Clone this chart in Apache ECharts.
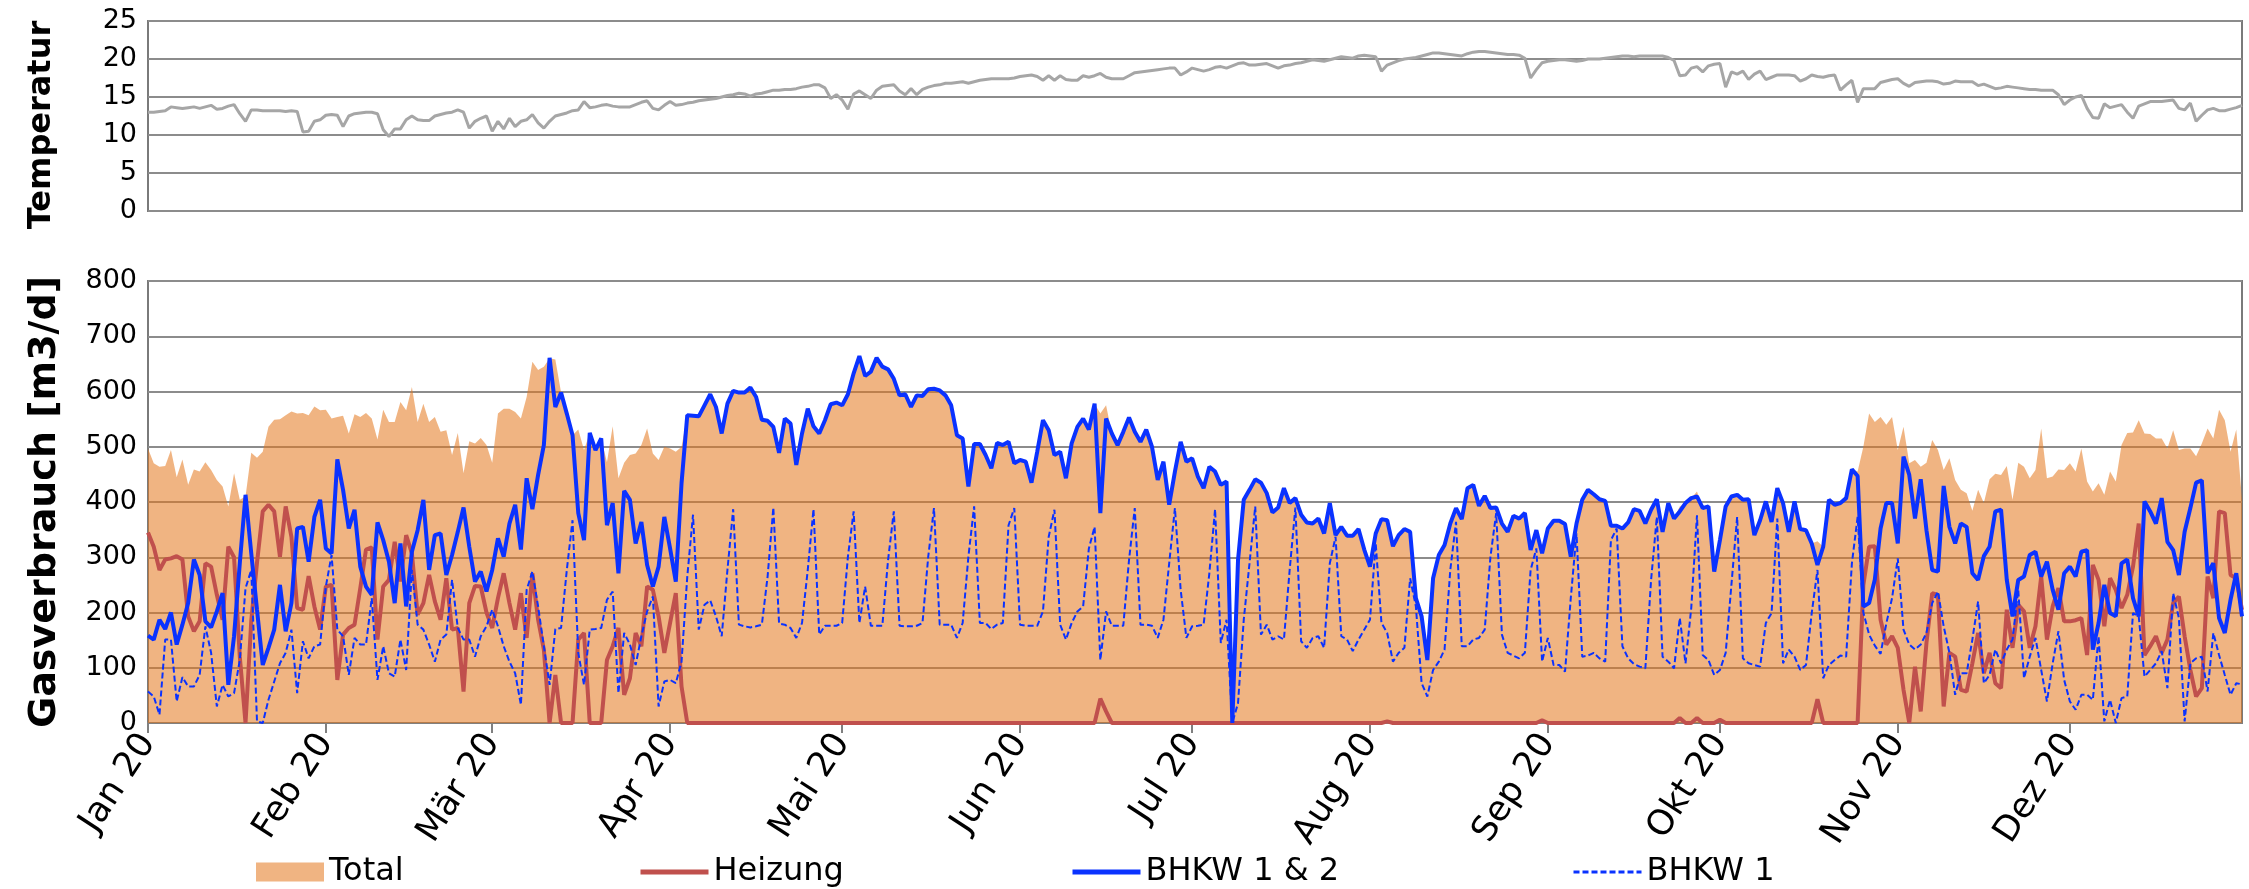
<!DOCTYPE html>
<html>
<head>
<meta charset="utf-8">
<script src="https://cdn.jsdelivr.net/npm/echarts@6/dist/echarts.min.js"></script>
<style>
  html, body { margin: 0; padding: 0; background: #fff; }
  #chart { width: 2249px; height: 889px; }
</style>
</head>
<body>
<div id="chart"></div>
<script>
// Monate 2020 (Schaltjahr)
const monthLabels = ['Jan 20', 'Feb 20', 'Mär 20', 'Apr 20', 'Mai 20', 'Jun 20', 'Jul 20', 'Aug 20', 'Sep 20', 'Okt 20', 'Nov 20', 'Dez 20']
const monthDays = [31, 29, 31, 30, 31, 30, 31, 31, 30, 31, 30, 31]

// Tagesmitteltemperatur
const temperatur = [
  13.0, 13.0, 13.1, 13.2, 13.7, 13.6, 13.5, 13.6, 13.7, 13.5,
  13.7, 13.9, 13.4, 13.5, 13.8, 14.0, 12.8, 11.8, 13.3, 13.3,
  13.2, 13.2, 13.2, 13.2, 13.1, 13.2, 13.1, 10.4, 10.5, 11.8,
  12.0, 12.6, 12.7, 12.6, 11.1, 12.5, 12.8, 12.9, 13.0, 13.0,
  12.8, 10.7, 9.8, 10.8, 10.8, 12.0, 12.5, 12.0, 11.9, 11.9,
  12.5, 12.7, 12.9, 13.0, 13.3, 13.0, 10.9, 11.8, 12.2, 12.5,
  10.5, 11.8, 10.8, 12.2, 11.1, 11.8, 12.0, 12.7, 11.6, 10.9,
  11.8, 12.5, 12.7, 12.9, 13.2, 13.3, 14.4, 13.6, 13.7, 13.9,
  14.0, 13.8, 13.7, 13.7, 13.7, 14.0, 14.3, 14.5, 13.5, 13.3,
  13.9, 14.4, 13.9, 14.0, 14.2, 14.3, 14.5, 14.6, 14.7, 14.8,
  15.0, 15.2, 15.3, 15.5, 15.4, 15.1, 15.4, 15.5, 15.7, 15.9,
  15.9, 16.0, 16.0, 16.1, 16.3, 16.4, 16.6, 16.6, 16.2, 14.8,
  15.3, 14.6, 13.4, 15.4, 15.8, 15.3, 14.8, 15.9, 16.4, 16.5,
  16.6, 15.8, 15.3, 16.1, 15.3, 16.0, 16.3, 16.5, 16.6, 16.8,
  16.8, 16.9, 17.0, 16.8, 17.0, 17.2, 17.3, 17.4, 17.4, 17.4,
  17.4, 17.5, 17.7, 17.8, 17.9, 17.7, 17.2, 17.8, 17.2, 17.8,
  17.3, 17.2, 17.2, 17.8, 17.6, 17.8, 18.1, 17.6, 17.4, 17.4,
  17.4, 17.8, 18.2, 18.3, 18.4, 18.5, 18.6, 18.7, 18.8, 18.8,
  17.9, 18.3, 18.8, 18.6, 18.4, 18.6, 18.9, 19.0, 18.8, 19.1,
  19.4, 19.5, 19.2, 19.2, 19.3, 19.4, 19.1, 18.8, 19.1, 19.2,
  19.4, 19.5, 19.7, 19.9, 19.8, 19.7, 19.9, 20.1, 20.3, 20.2,
  20.1, 20.4, 20.5, 20.4, 20.3, 18.4, 19.2, 19.5, 19.8, 20.0,
  20.1, 20.2, 20.4, 20.6, 20.8, 20.8, 20.7, 20.6, 20.5, 20.4,
  20.7, 20.9, 21.0, 21.0, 20.9, 20.8, 20.7, 20.6, 20.6, 20.5,
  20.1, 17.5, 18.6, 19.5, 19.7, 19.8, 19.9, 19.9, 19.8, 19.7,
  19.8, 20.0, 20.0, 20.0, 20.1, 20.2, 20.3, 20.4, 20.4, 20.3,
  20.4, 20.4, 20.4, 20.4, 20.4, 20.2, 19.8, 17.8, 17.9, 18.8,
  19.0, 18.3, 19.1, 19.3, 19.4, 16.3, 18.3, 18.0, 18.4, 17.3,
  18.0, 18.4, 17.3, 17.6, 17.9, 17.9, 17.9, 17.8, 17.1, 17.4,
  17.9, 17.7, 17.6, 17.8, 17.9, 15.9, 16.6, 17.2, 14.3, 16.1,
  16.1, 16.1, 16.9, 17.1, 17.3, 17.4, 16.8, 16.4, 16.9, 17.0,
  17.1, 17.1, 17.0, 16.7, 16.8, 17.1, 17.0, 17.0, 17.0, 16.5,
  16.7, 16.4, 16.1, 16.2, 16.4, 16.3, 16.2, 16.1, 16.0, 16.0,
  15.9, 15.9, 15.9, 15.3, 14.0, 14.6, 15.0, 15.2, 13.5, 12.3,
  12.2, 14.1, 13.6, 13.8, 14.0, 13.0, 12.2, 13.8, 14.1, 14.4,
  14.4, 14.4, 14.5, 14.6, 13.5, 13.3, 14.2, 11.8, 12.6, 13.3,
  13.5, 13.2, 13.2, 13.4, 13.6, 13.9
]

// Gasverbrauch gesamt [m3/d]
const total = [
  497, 470, 464, 465, 494, 445, 477, 431, 459, 455,
  472, 458, 440, 428, 392, 452, 404, 410, 489, 480,
  491, 536, 549, 550, 557, 564, 560, 561, 557, 573,
  566, 567, 551, 554, 556, 524, 559, 554, 561, 551,
  513, 567, 545, 545, 581, 566, 608, 545, 578, 545,
  554, 527, 530, 485, 525, 452, 510, 506, 516, 503,
  471, 560, 569, 569, 563, 551, 590, 654, 639, 645,
  660, 658, 598, 560, 521, 531, 494, 525, 494, 515,
  472, 537, 443, 471, 485, 488, 503, 533, 488, 476,
  500, 497, 491, 500, 557, 556, 555, 575, 595, 572,
  524, 578, 601, 598, 598, 607, 590, 549, 547, 536,
  489, 551, 542, 467, 524, 569, 537, 524, 548, 577,
  580, 575, 595, 633, 664, 628, 636, 661, 645, 640,
  623, 593, 595, 572, 593, 592, 604, 605, 602, 593,
  575, 521, 515, 428, 505, 505, 485, 461, 507, 503,
  509, 470, 476, 473, 435, 491, 548, 530, 485, 491,
  443, 506, 536, 551, 531, 578, 560, 575, 524, 503,
  527, 553, 527, 509, 531, 500, 440, 473, 395, 455,
  509, 473, 479, 446, 425, 464, 455, 431, 437, 0,
  295, 404, 422, 441, 435, 416, 381, 390, 425, 398,
  407, 377, 363, 361, 370, 343, 398, 340, 355, 339,
  339, 351, 314, 283, 343, 369, 367, 320, 340, 351,
  346, 226, 193, 114, 262, 304, 322, 361, 389, 369,
  425, 431, 393, 411, 389, 390, 361, 346, 375, 370,
  380, 313, 349, 307, 352, 366, 366, 360, 301, 361,
  404, 422, 414, 405, 402, 357, 357, 352, 363, 387,
  384, 361, 386, 405, 346, 398, 370, 392, 398, 407,
  419, 389, 392, 274, 337, 392, 410, 413, 404, 405,
  340, 367, 401, 364, 425, 398, 346, 401, 351, 349,
  325, 329, 319, 404, 395, 398, 407, 459, 455, 500,
  560, 545, 554, 540, 554, 494, 536, 470, 476, 464,
  471, 512, 494, 458, 479, 440, 422, 416, 384, 422,
  398, 441, 451, 449, 465, 404, 471, 464, 443, 458,
  533, 443, 446, 459, 458, 470, 455, 497, 437, 419,
  434, 413, 455, 437, 503, 525, 526, 548, 524, 523,
  515, 515, 497, 530, 494, 497, 497, 483, 506, 533,
  515, 567, 548, 491, 531, 404
]

// Heizung [m3/d]
const heizung = [
  345, 319, 277, 296, 298, 302, 296, 193, 166, 184,
  289, 283, 232, 187, 319, 300, 120, 0, 185, 290,
  383, 395, 383, 301, 392, 337, 208, 205, 266, 211,
  169, 247, 250, 78, 160, 172, 178, 244, 314, 318,
  151, 247, 259, 328, 256, 340, 307, 196, 217, 268,
  220, 187, 262, 169, 172, 57, 217, 248, 247, 200,
  172, 226, 271, 217, 169, 235, 154, 271, 187, 133,
  0, 87, 0, 0, 0, 151, 163, 0, 0, 0,
  114, 139, 172, 51, 81, 163, 139, 247, 241, 193,
  127, 181, 235, 66, 0, 0, 0, 0, 0, 0,
  0, 0, 0, 0, 0, 0, 0, 0, 0, 0,
  0, 0, 0, 0, 0, 0, 0, 0, 0, 0,
  0, 0, 0, 0, 0, 0, 0, 0, 0, 0,
  0, 0, 0, 0, 0, 0, 0, 0, 0, 0,
  0, 0, 0, 0, 0, 0, 0, 0, 0, 0,
  0, 0, 0, 0, 0, 0, 0, 0, 0, 0,
  0, 0, 0, 0, 0, 0, 44, 21, 0, 0,
  0, 0, 0, 0, 0, 0, 0, 0, 0, 0,
  0, 0, 0, 0, 0, 0, 0, 0, 0, 0,
  0, 0, 0, 0, 0, 0, 0, 0, 0, 0,
  0, 0, 0, 0, 0, 0, 0, 0, 0, 0,
  0, 0, 0, 0, 0, 0, 3, 0, 0, 0,
  0, 0, 0, 0, 0, 0, 0, 0, 0, 0,
  0, 0, 0, 0, 0, 0, 0, 0, 0, 0,
  0, 0, 0, 5, 0, 0, 0, 0, 0, 0,
  0, 0, 0, 0, 0, 0, 0, 0, 0, 0,
  0, 0, 0, 0, 0, 0, 0, 9, 0, 0,
  9, 0, 0, 0, 6, 0, 0, 0, 0, 0,
  0, 0, 0, 0, 0, 0, 0, 0, 0, 0,
  0, 43, 0, 0, 0, 0, 0, 0, 0, 250,
  319, 320, 187, 142, 157, 136, 60, 0, 102, 21,
  145, 235, 232, 30, 127, 120, 60, 57, 108, 163,
  90, 127, 72, 63, 205, 136, 214, 202, 136, 175,
  265, 151, 211, 244, 184, 184, 186, 190, 123, 286,
  259, 175, 262, 241, 208, 232, 283, 361, 123, 139,
  157, 127, 151, 217, 229, 157, 96, 48, 63, 265,
  226, 383, 380, 268, 262, 205
]

// BHKW 1 & 2 [m3/d]
const bhkw12 = [
  158, 151, 187, 170, 200, 142, 178, 217, 296, 268,
  184, 173, 202, 235, 69, 157, 289, 413, 307, 205,
  105, 136, 169, 250, 166, 217, 352, 355, 292, 373,
  404, 316, 307, 477, 422, 352, 386, 283, 247, 232,
  363, 331, 292, 217, 325, 211, 310, 349, 404, 277,
  340, 343, 268, 304, 346, 390, 319, 256, 274, 238,
  277, 334, 301, 361, 395, 314, 443, 387, 449, 503,
  661, 572, 598, 560, 521, 380, 331, 525, 494, 515,
  358, 398, 271, 420, 404, 325, 364, 286, 247, 283,
  373, 316, 256, 434, 557, 556, 555, 575, 595, 572,
  524, 578, 601, 598, 598, 607, 590, 549, 547, 536,
  489, 551, 542, 467, 524, 569, 537, 524, 548, 577,
  580, 575, 595, 633, 664, 628, 636, 661, 645, 640,
  623, 593, 595, 572, 593, 592, 604, 605, 602, 593,
  575, 521, 515, 428, 505, 505, 485, 461, 507, 503,
  509, 470, 476, 473, 435, 491, 548, 530, 485, 491,
  443, 506, 536, 551, 531, 578, 380, 551, 524, 503,
  527, 553, 527, 509, 531, 500, 440, 473, 395, 455,
  509, 473, 479, 446, 425, 464, 455, 431, 437, 0,
  295, 404, 422, 441, 435, 416, 381, 390, 425, 398,
  407, 377, 363, 361, 370, 343, 398, 340, 355, 339,
  339, 351, 314, 283, 343, 369, 367, 320, 340, 351,
  346, 226, 193, 114, 262, 304, 322, 361, 389, 369,
  425, 431, 393, 411, 389, 390, 361, 346, 375, 370,
  380, 313, 349, 307, 352, 366, 366, 360, 301, 361,
  404, 422, 414, 405, 402, 357, 357, 352, 363, 387,
  384, 361, 386, 405, 346, 398, 370, 383, 398, 407,
  410, 389, 392, 274, 331, 392, 410, 413, 404, 405,
  340, 367, 401, 364, 425, 398, 346, 401, 351, 349,
  325, 286, 319, 404, 395, 398, 407, 459, 447, 211,
  217, 260, 352, 398, 398, 325, 482, 449, 370, 441,
  349, 277, 274, 429, 355, 325, 361, 355, 271, 259,
  302, 319, 383, 386, 259, 193, 259, 265, 304, 310,
  265, 292, 241, 205, 271, 283, 265, 310, 313, 133,
  181, 250, 199, 193, 289, 296, 226, 193, 401, 383,
  361, 407, 328, 313, 268, 346, 389, 435, 439, 271,
  289, 190, 163, 223, 271, 193
]

// BHKW 1 [m3/d]
const bhkw1 = [
  57, 48, 15, 151, 151, 39, 83, 66, 66, 87,
  175, 127, 30, 69, 48, 54, 114, 244, 277, 3,
  0, 42, 75, 108, 127, 169, 54, 148, 117, 139,
  142, 247, 304, 169, 157, 87, 154, 142, 142, 226,
  78, 139, 90, 84, 151, 96, 277, 178, 169, 142,
  111, 151, 160, 259, 172, 151, 151, 120, 157, 175,
  205, 175, 139, 111, 90, 33, 241, 274, 211, 139,
  69, 170, 172, 277, 367, 127, 69, 169, 170, 172,
  223, 238, 54, 163, 142, 105, 157, 202, 229, 30,
  75, 78, 72, 111, 265, 377, 169, 214, 222, 193,
  157, 277, 387, 178, 175, 173, 175, 178, 265, 390,
  180, 178, 172, 154, 181, 277, 387, 160, 176, 176,
  176, 181, 301, 383, 181, 247, 176, 176, 176, 295,
  383, 176, 175, 175, 176, 181, 301, 389, 178, 178,
  178, 154, 181, 301, 392, 181, 181, 170, 178, 181,
  358, 389, 178, 176, 176, 176, 202, 337, 386, 178,
  151, 181, 202, 211, 316, 355, 114, 202, 176, 176,
  176, 295, 389, 178, 178, 176, 154, 187, 289, 389,
  241, 154, 175, 176, 178, 271, 387, 145, 187, 0,
  36, 187, 289, 392, 160, 178, 151, 157, 151, 277,
  390, 148, 136, 154, 157, 136, 289, 337, 157, 151,
  130, 151, 169, 187, 325, 181, 163, 111, 127, 136,
  262, 211, 72, 48, 96, 111, 133, 277, 364, 139,
  139, 151, 154, 169, 301, 380, 160, 127, 122, 117,
  127, 277, 316, 111, 154, 105, 105, 93, 226, 343,
  120, 122, 127, 117, 111, 331, 352, 139, 117, 107,
  102, 99, 259, 373, 120, 111, 99, 190, 108, 208,
  376, 123, 114, 87, 96, 127, 250, 373, 117, 108,
  105, 102, 181, 199, 370, 108, 133, 120, 96, 105,
  199, 277, 81, 105, 114, 122, 120, 289, 373, 200,
  160, 140, 125, 180, 226, 298, 169, 142, 133, 142,
  163, 217, 238, 175, 127, 51, 90, 90, 151, 220,
  72, 87, 133, 108, 133, 151, 241, 81, 120, 154,
  96, 39, 108, 166, 78, 39, 24, 51, 51, 42,
  157, 3, 42, 0, 45, 48, 199, 193, 84, 96,
  108, 130, 63, 235, 190, 3, 108, 117, 120, 57,
  163, 123, 87, 51, 72, 70
]

// Kategorien: ein Eintrag pro Tag, "monat-tag"
const days = []
monthDays.forEach((n, m) => {
  for (let d = 1; d <= n; d++) days.push(m + '-' + d)
})
const isMonthStart = (index, value) => value.split('-')[1] === '1'

const font = "'DejaVu Sans', Verdana, sans-serif"
const gridColor = '#8c8c8c'

const chart = echarts.init(document.getElementById('chart'))
const legendText = { fontSize: 32, color: '#000', fontFamily: font }
// Linien-Legenden ohne Punktsymbol
const lineLegend = { top: 851, itemWidth: 68, itemHeight: 19, textStyle: legendText, itemStyle: { opacity: 0 } }

chart.setOption({
  animation: false,
  backgroundColor: '#fff',
  grid: [
    { left: 148, right: 7, top: 21, height: 190, show: true, borderColor: '#7a7a7a', borderWidth: 2 },
    { left: 148, right: 7, top: 281, height: 442, show: true, borderColor: '#7a7a7a', borderWidth: 2 }
  ],
  legend: [
    { data: [{ name: 'Total', icon: 'rect' }], left: 251, top: 851, itemWidth: 68, itemHeight: 19, textStyle: legendText },
    Object.assign({ data: ['Heizung'], left: 633, lineStyle: { width: 5 } }, lineLegend),
    Object.assign({ data: ['BHKW 1 & 2'], left: 1065, lineStyle: { width: 5 } }, lineLegend),
    Object.assign({ data: ['BHKW 1'], left: 1567, lineStyle: { width: 3 } }, lineLegend)
  ],
  xAxis: [
    {
      gridIndex: 0, type: 'category', data: days, boundaryGap: false,
      axisLine: { show: false }, axisTick: { show: false }, axisLabel: { show: false }
    },
    {
      gridIndex: 1, type: 'category', data: days, boundaryGap: false,
      axisLine: { lineStyle: { color: '#808080', width: 2 } },
      axisTick: { interval: isMonthStart, length: 10, lineStyle: { color: '#808080', width: 2 } },
      axisLabel: {
        interval: isMonthStart,
        formatter: (v) => monthLabels[+v.split('-')[0]],
        rotate: 57, margin: 14, fontSize: 35, color: '#000', fontFamily: font
      }
    }
  ],
  yAxis: [
    {
      gridIndex: 0, type: 'value', min: 0, max: 25, interval: 5,
      name: 'Temperatur', nameLocation: 'middle', nameGap: 90,
      nameTextStyle: { fontSize: 32, fontWeight: 'bold', color: '#000', fontFamily: font, padding: [0, 18, 0, 0] },
      axisLine: { show: false }, axisTick: { show: false },
      axisLabel: { fontSize: 27, color: '#000', margin: 11, fontFamily: font },
      splitLine: { lineStyle: { color: gridColor, width: 2 } }
    },
    {
      gridIndex: 1, type: 'value', min: 0, max: 800, interval: 100,
      name: 'Gasverbrauch [m3/d]', nameLocation: 'middle', nameGap: 84,
      nameTextStyle: { fontSize: 38, fontWeight: 'bold', color: '#000', fontFamily: font },
      axisLine: { show: false }, axisTick: { show: false },
      axisLabel: { fontSize: 27, color: '#000', margin: 11, fontFamily: font },
      splitLine: { lineStyle: { color: gridColor, width: 2 } }
    }
  ],
  series: [
    {
      name: 'Temperatur', type: 'line', xAxisIndex: 0, yAxisIndex: 0,
      data: temperatur, symbol: 'none',
      lineStyle: { color: '#a6a6a6', width: 3 }, itemStyle: { color: '#a6a6a6' }
    },
    {
      name: 'Total', type: 'line', xAxisIndex: 1, yAxisIndex: 1,
      data: total, symbol: 'none',
      lineStyle: { width: 0 },
      itemStyle: { color: '#f0b482' },
      areaStyle: { color: 'rgba(228,119,28,0.55)', opacity: 1 }
    },
    {
      name: 'Heizung', type: 'line', xAxisIndex: 1, yAxisIndex: 1,
      data: heizung, symbol: 'none',
      lineStyle: { color: '#c0504d', width: 4 }, itemStyle: { color: '#c0504d' }
    },
    {
      name: 'BHKW 1 & 2', type: 'line', xAxisIndex: 1, yAxisIndex: 1,
      data: bhkw12, symbol: 'none',
      lineStyle: { color: '#0a32ff', width: 4 }, itemStyle: { color: '#0a32ff' }
    },
    {
      name: 'BHKW 1', type: 'line', xAxisIndex: 1, yAxisIndex: 1,
      data: bhkw1, symbol: 'none',
      lineStyle: { color: '#0a32ff', width: 2, type: [6, 3] }, itemStyle: { color: '#0a32ff' }
    }
  ]
})
</script>
</body>
</html>
